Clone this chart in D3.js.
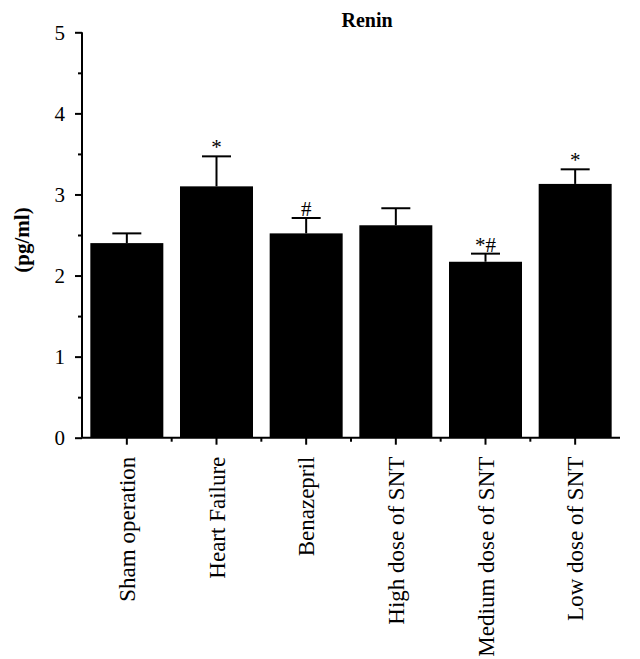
<!DOCTYPE html>
<html>
<head>
<meta charset="utf-8">
<script src="https://cdn.jsdelivr.net/npm/d3@7/dist/d3.min.js"></script>
<style>
  body { margin: 0; background: #fff; }
  text { font-family: "Liberation Serif", "DejaVu Serif", serif; fill: #000; }
</style>
</head>
<body>
<svg id="chart" width="640" height="659"></svg>
<script>
// groups, means, upper error, significance marks
var groups = ['Sham operation', 'Heart Failure', 'Benazepril', 'High dose of SNT', 'Medium dose of SNT', 'Low dose of SNT']
var means = [2.40, 3.10, 2.52, 2.62, 2.17, 3.13]
var errors = [0.12, 0.37, 0.19, 0.21, 0.10, 0.18]
var marks = ['', '*', '#', '', '*#', '*']
var yTicks = [0, 1, 2, 3, 4, 5]
var yMinor = [0.5, 1.5, 2.5, 3.5, 4.5]

var svg = d3.select('#chart')
var plotLeft = 82
var plotRight = 620
var plotTop = 32.3
var plotBottom = 437.7

var x = d3.scaleBand().domain(groups).range([plotLeft, plotRight]).paddingInner(0.186).paddingOuter(0.093)
var xEdge = d3.scaleBand().domain(groups).range([plotLeft, plotRight])
var y = d3.scaleLinear().domain([0, 5]).range([plotBottom, plotTop])

// bars
svg.selectAll('.bar')
  .data(groups).enter()
  .append('rect')
  .attr('class', 'bar')
  .attr('x', function (d) { return x(d) })
  .attr('width', x.bandwidth())
  .attr('y', function (d, i) { return y(means[i]) })
  .attr('height', function (d, i) { return plotBottom - y(means[i]) })
  .attr('fill', '#000')

// error bars (upper only)
var capHalf = 14.5
groups.forEach(function (g, i) {
  var cx = x(g) + x.bandwidth() / 2
  var errTop = y(means[i] + errors[i])
  svg.append('line')
    .attr('x1', cx).attr('x2', cx)
    .attr('y1', y(means[i])).attr('y2', errTop)
    .attr('stroke', '#000').attr('stroke-width', 2)
  svg.append('line')
    .attr('x1', cx - capHalf).attr('x2', cx + capHalf)
    .attr('y1', errTop).attr('y2', errTop)
    .attr('stroke', '#000').attr('stroke-width', 2)
  if (marks[i]) {
    svg.append('text')
      .attr('x', cx)
      .attr('y', errTop - 2)
      .attr('text-anchor', 'middle')
      .style('font-size', '21px')
      .text(marks[i])
  }
})

// y axis
var yAxis = d3.axisLeft(y).tickValues(yTicks).tickSize(7).tickPadding(10).tickFormat(d3.format('d'))
var gy = svg.append('g').attr('transform', 'translate(' + plotLeft + ',0)').call(yAxis)
gy.select('.domain').attr('stroke-width', 2).attr('d', 'M0,' + plotTop + 'V' + plotBottom)
gy.selectAll('.tick line').attr('stroke-width', 2)
gy.selectAll('.tick text').style('font-size', '21px').style('font-family', '"Liberation Serif", serif')
svg.append('g').attr('transform', 'translate(' + plotLeft + ',0)')
  .call(d3.axisLeft(y).tickValues(yMinor).tickSize(4).tickFormat(''))
  .call(function (g) { g.select('.domain').remove() })
  .selectAll('.tick line').attr('stroke-width', 2)

// x axis
var xAxis = d3.axisBottom(x).tickSize(7).tickSizeOuter(0).tickPadding(0).tickFormat('')
var gx = svg.append('g').attr('transform', 'translate(0,' + plotBottom + ')').call(xAxis)
gx.select('.domain').attr('stroke-width', 2).attr('d', 'M' + plotLeft + ',0H' + plotRight)
gx.selectAll('.tick line').attr('stroke-width', 2)
svg.append('g').attr('class', 'minor-x')
  .selectAll('line')
  .data(groups.slice(1)).enter()
  .append('line')
  .attr('x1', function (d) { return xEdge(d) })
  .attr('x2', function (d) { return xEdge(d) })
  .attr('y1', plotBottom).attr('y2', plotBottom + 4)
  .attr('stroke', '#000').attr('stroke-width', 2)

// category labels
svg.selectAll('.cat')
  .data(groups).enter()
  .append('text')
  .attr('class', 'cat')
  .attr('transform', function (d) {
    return 'translate(' + (x(d) + x.bandwidth() / 2) + ',' + (plotBottom + 19) + ') rotate(-90)'
  })
  .attr('text-anchor', 'end')
  .attr('dy', '0.35em')
  .style('font-size', '23px')
  .text(function (d) { return d })

// title and y label
svg.append('text')
  .attr('x', 367).attr('y', 27)
  .attr('text-anchor', 'middle')
  .style('font-size', '20px').style('font-weight', 'bold')
  .text('Renin')

svg.append('text')
  .attr('transform', 'translate(29,' + 240 + ') rotate(-90)')
  .attr('text-anchor', 'middle')
  .style('font-size', '21px').style('font-weight', 'bold')
  .text('(pg/ml)')
</script>
</body>
</html>
